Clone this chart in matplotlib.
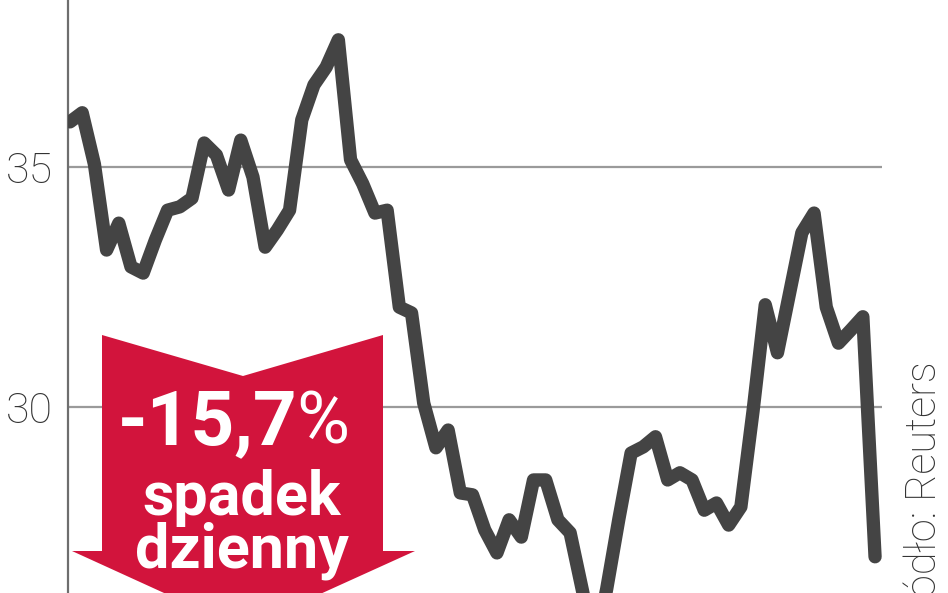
import matplotlib
matplotlib.use("Agg")
import matplotlib.pyplot as plt
from matplotlib.patches import Polygon

# kurs akcji - notowania dzienne
kurs = [35.94, 36.13, 35.06, 33.27, 33.83, 32.92, 32.79, 33.48, 34.10, 34.17,
        34.35, 35.50, 35.25, 34.52, 35.56, 34.79, 33.33, 33.69, 34.10, 35.98,
        36.71, 37.08, 37.65, 35.15, 34.65, 34.04, 34.10, 32.08, 31.96, 30.08,
        29.15, 29.52, 28.21, 28.17, 27.44, 26.96, 27.65, 27.29, 28.48, 28.48,
        27.65, 27.38, 26.19, 24.94, 26.21, 27.67, 29.04, 29.17, 29.38, 28.48,
        28.63, 28.48, 27.85, 28.00, 27.54, 27.92, 29.92, 32.13, 31.13, 32.38,
        33.63, 34.04, 32.08, 31.33, 31.60, 31.88, 26.88]
dni = list(range(len(kurs)))
yticks = [30, 35]
ytick_labels = ["30", "35"]
zmiana = "-15,7"
opis = ["spadek", "dzienny"]
zrodlo = "Źródło: Reuters"

W, H = 948, 593
fig = plt.figure(figsize=(W / 100, H / 100), dpi=100)
fig.patch.set_facecolor("white")


def px(x, y):
    # piksele obrazka -> wspolrzedne figury
    return (x / W, 1 - y / H)


ax = fig.add_axes([68 / W, 0, (882 - 68) / W, 1])
ax.set_xlim(-0.164, 66.57)
ax.set_ylim(26.125, 38.479)
for s in ["top", "right", "bottom"]:
    ax.spines[s].set_visible(False)
ax.spines["left"].set_color("#6e6e6e")
ax.spines["left"].set_linewidth(1.6)
ax.set_xticks([])
ax.set_yticks(yticks)
ax.set_yticklabels(ytick_labels, fontsize=31, color="#333333",
                   family=["Roboto", "DejaVu Sans"], fontweight="light")
ax.tick_params(axis="y", length=0, pad=11)
ax.yaxis.grid(True, color="#9a9a9a", linewidth=1.6)
ax.set_axisbelow(True)

ax.plot(dni, kurs, color="#444444", linewidth=9.6,
        solid_joinstyle="round", solid_capstyle="round", zorder=3)

# czerwona strzalka
strz = [(102, 335), (243, 376), (383, 335), (383, 551), (415, 551),
        (243, 629), (72, 551), (102, 551)]
ax.add_patch(Polygon([px(*p) for p in strz], closed=True,
                     transform=fig.transFigure, facecolor="#d2143c",
                     edgecolor="none", clip_on=False, zorder=4))

fig.text(*px(298, 424), zmiana, ha="right", va="center", color="white",
         fontsize=55, fontweight="bold", family=["Roboto", "DejaVu Sans"],
         zorder=5)
fig.text(*px(296, 424), "%", ha="left", va="center", color="white",
         fontsize=52, family=["Roboto", "DejaVu Sans"], zorder=5)
fig.text(*px(242, 498), opis[0], ha="center", va="center", color="white",
         fontsize=44, fontweight="bold", family=["Roboto", "DejaVu Sans"],
         zorder=5)
fig.text(*px(242, 551), opis[1], ha="center", va="center", color="white",
         fontsize=44, fontweight="bold", family=["Roboto", "DejaVu Sans"],
         zorder=5)

fig.text(*px(945, 361), zrodlo, rotation=90, ha="right", va="top",
         fontsize=30, color="#333333", family=["Roboto", "DejaVu Sans"],
         fontweight="light")

fig.savefig("out.png", dpi=100, facecolor="white")
